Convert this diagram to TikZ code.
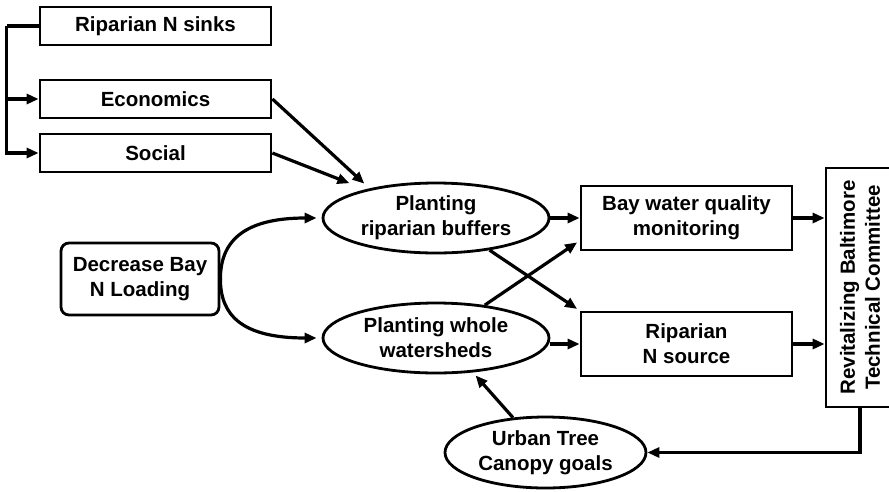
\documentclass[tikz,border=0pt]{standalone}
\usepackage{fontspec}
\setmainfont{Liberation Sans}
\usetikzlibrary{shapes.geometric,arrows.meta}
\begin{document}
\begin{tikzpicture}[x=1pt,y=-1pt,
  every node/.style={font=\bfseries\fontsize{20.5}{25}\selectfont, align=center, inner sep=0pt},
  box/.style={draw, line width=2.8pt, rectangle},
  rbox/.style={box, rounded corners=8pt},
  oval/.style={draw, line width=2.8pt, ellipse},
  arr/.style={line width=3.2pt, -{Triangle[length=12pt,width=10pt]}},
  plain/.style={line width=3.2pt}]
\useasboundingbox (0,0) rectangle (889,491);

% left column
\node[box, minimum width=231pt, minimum height=38pt] (sinks) at (155.5,26) {Riparian N sinks};
\node[box, minimum width=231pt, minimum height=38pt] (econ) at (155.5,99) {Economics};
\node[box, minimum width=231pt, minimum height=38pt] (social) at (155.5,153) {Social};
\node[rbox, minimum width=158pt, minimum height=72pt] (decrease) at (140,279) {Decrease Bay\\N Loading};

% planting actions
\node[oval, minimum width=226pt, minimum height=70pt] (buffers) at (436,218) {Planting\\riparian buffers};
\node[oval, minimum width=226pt, minimum height=70pt] (watersheds) at (436,338) {Planting whole\\watersheds};
\node[oval, minimum width=201pt, minimum height=71pt] (urban) at (545.5,452.5) {Urban Tree\\Canopy goals};

% outcomes
\node[box, minimum width=211pt, minimum height=64pt] (bay) at (686.5,218) {Bay water quality\\monitoring};
\node[box, minimum width=211pt, minimum height=64pt] (source) at (686.5,344) {Riparian\\N source};
\node[box, rotate=90, minimum width=239pt, minimum height=68pt] (revit) at (860,287.5) {Revitalizing Baltimore\\Technical Committee};

% bracket from the sinks box
\draw[plain] (sinks.west) -- ++(-32,0);
\draw[arr] ([xshift=-32pt]sinks.west) |- (social.west);
\draw[arr] ([xshift=-32pt]sinks.west) |- (econ.west);

% drivers of riparian buffers
\draw[arr, shorten >=7pt] (econ.east) -- (buffers.156);
\draw[arr, shorten >=17pt] (social.east) -- (buffers.158);

% decreasing the N load
\draw[arr, shorten >=5pt] (decrease.east) .. controls +(0,-36) and +(-80,0) .. (buffers.west);
\draw[arr, shorten >=5pt] (decrease.east) .. controls +(0,36) and +(-80,0) .. (watersheds.west);

% planting to outcomes
\draw[arr] (buffers.east) -- (bay.west);
\draw[arr] (watersheds.east |- source.west) -- (source.west);
\draw[arr, shorten >=3pt] (buffers.-31) -- (source.north west);
\draw[arr, shorten >=3pt] (watersheds.34) -- (bay.-168);

% outcomes to the committee
\draw[arr] (bay.east) -- (bay.east -| revit.north);
\draw[arr] (source.east) -- (source.east -| revit.north);

% committee feedback through canopy goals
\draw[arr] (revit.west) |- (urban.east);
\draw[arr, shorten >=4pt] (urban.133) -- (watersheds.-43);
\end{tikzpicture}
\end{document}
